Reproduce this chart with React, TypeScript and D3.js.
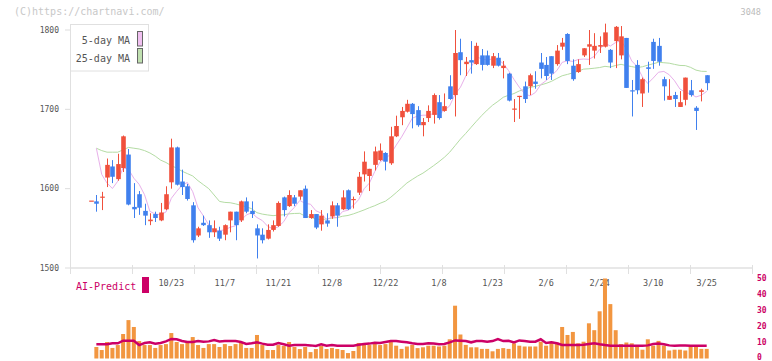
import React, { useEffect, useRef } from "react";
import * as d3 from "d3";

// daily candles, Oct 1 .. Mar 25 (116 sessions)
const opens = [
  1584, 1584, 1589, 1614, 1628, 1612, 1626, 1643, 1577, 1593,
  1572, 1559, 1568, 1560, 1574, 1608, 1652, 1609, 1603, 1579,
  1541, 1557, 1554, 1545, 1547, 1542, 1560, 1571, 1560, 1584,
  1572, 1550, 1542, 1537, 1548, 1553, 1589, 1578, 1589, 1590,
  1600, 1563, 1568, 1555, 1560, 1565, 1579, 1574, 1598, 1586,
  1595, 1618, 1616, 1630, 1636, 1645, 1632, 1666, 1690, 1697,
  1707, 1699, 1680, 1689, 1693, 1709, 1698, 1729, 1718, 1772,
  1757, 1762, 1757, 1768, 1768, 1755, 1765, 1752, 1745, 1700,
  1716, 1729, 1729, 1735, 1759, 1756, 1767, 1757, 1779, 1795,
  1755, 1747, 1768, 1779, 1774, 1779, 1779, 1775, 1786, 1768,
  1790, 1724, 1756, 1720, 1753, 1785, 1780, 1738, 1712, 1718,
  1703, 1712, 1724, 1702, 1722, 1743,
];
const highs = [
  1585, 1592, 1596, 1638, 1636, 1644, 1667, 1650, 1607, 1597,
  1581, 1569, 1571, 1582, 1603, 1663, 1653, 1624, 1606, 1583,
  1552, 1566, 1560, 1560, 1552, 1555, 1571, 1571, 1585, 1589,
  1584, 1555, 1550, 1555, 1560, 1584, 1590, 1598, 1592, 1598,
  1604, 1573, 1568, 1573, 1569, 1584, 1582, 1598, 1599, 1590,
  1621, 1647, 1625, 1653, 1657, 1646, 1678, 1692, 1703, 1712,
  1708, 1704, 1689, 1705, 1720, 1718, 1720, 1743, 1800, 1789,
  1766, 1786, 1784, 1776, 1774, 1771, 1771, 1761, 1746, 1713,
  1717, 1735, 1745, 1748, 1771, 1766, 1767, 1781, 1790, 1796,
  1763, 1763, 1777, 1800, 1796, 1792, 1808, 1776, 1805, 1805,
  1790, 1737, 1762, 1740, 1760, 1789, 1790, 1741, 1738, 1722,
  1723, 1740, 1737, 1704, 1726, 1743,
];
const lows = [
  1585, 1571, 1573, 1602, 1607, 1610, 1621, 1579, 1563, 1567,
  1554, 1554, 1558, 1559, 1573, 1600, 1604, 1592, 1585, 1532,
  1539, 1553, 1538, 1539, 1534, 1535, 1545, 1535, 1558, 1569,
  1563, 1512, 1531, 1536, 1546, 1552, 1565, 1577, 1578, 1586,
  1563, 1562, 1549, 1547, 1552, 1562, 1552, 1573, 1573, 1575,
  1592, 1609, 1597, 1623, 1635, 1623, 1630, 1665, 1680, 1696,
  1676, 1678, 1666, 1684, 1682, 1687, 1697, 1712, 1691, 1743,
  1742, 1745, 1756, 1749, 1755, 1752, 1754, 1739, 1710, 1684,
  1688, 1708, 1718, 1726, 1739, 1737, 1737, 1755, 1775, 1757,
  1736, 1746, 1766, 1756, 1764, 1771, 1778, 1752, 1752, 1763,
  1727, 1691, 1719, 1703, 1721, 1751, 1755, 1711, 1712, 1703,
  1703, 1705, 1716, 1674, 1710, 1724,
];
const closes = [
  1585, 1581, 1590, 1630, 1615, 1631, 1666, 1580, 1574, 1576,
  1566, 1561, 1563, 1570, 1593, 1652, 1605, 1602, 1587, 1535,
  1550, 1554, 1545, 1550, 1537, 1554, 1571, 1554, 1584, 1571,
  1568, 1541, 1535, 1548, 1554, 1582, 1573, 1592, 1581, 1598,
  1563, 1568, 1551, 1566, 1556, 1579, 1566, 1589, 1574, 1587,
  1615, 1634, 1625, 1647, 1648, 1634, 1666, 1679, 1698, 1707,
  1694, 1680, 1684, 1698, 1718, 1689, 1704, 1713, 1771, 1762,
  1760, 1759, 1780, 1756, 1756, 1767, 1755, 1755, 1711, 1701,
  1717, 1713, 1743, 1732, 1751, 1742, 1745, 1774, 1784, 1761,
  1738, 1757, 1777, 1782, 1780, 1781, 1797, 1759, 1804, 1792,
  1727, 1723, 1724, 1738, 1751, 1761, 1760, 1729, 1717, 1713,
  1709, 1740, 1718, 1698, 1724, 1733,
];

// moving averages before enough sessions are on screen
const ma5Head = [null, 1651, 1618, 1607];
const ma25Head = [
  null, 1651, 1648, 1646, 1646, 1646, 1649, 1652, 1651, 1650,
  1648, 1645, 1641, 1636, 1633, 1629, 1626, 1622, 1619, 1616,
  1610, 1605, 1600, 1592,
];

// AI-Predict panel, sessions 1..115
const aiBars = [
  7.2, 5.3, 10.3, 6.6, 8.4, 15.3, 24, 19.7, 10.9, 8.4,
  8.4, 6.6, 8.4, 9, 15.9, 10.3, 9, 10.3, 13.4, 8.4,
  6.6, 9, 9, 7.2, 9, 7.8, 9, 10.3, 6.6, 6.6,
  14.7, 8.4, 5.3, 5.3, 8.4, 7.8, 10.3, 7.2, 5.9, 7.2,
  4, 5.9, 7.8, 5.9, 6.6, 5.9, 5.3, 3.4, 4.7, 9.7,
  9.7, 8.4, 10.3, 8.4, 9, 10.3,
  8, 6, 7.5, 8.5, 6.5, 7, 8, 8, 7.5, 8, 12, 33, 15,
  8.5, 7, 7, 6, 6, 4.5, 6, 6.5, 6, 9.5, 8, 7.5, 7.5, 7.5, 10.5, 8, 10.5, 10,
  19.7, 14.7, 16.6, 9.5, 10.5, 22, 17.7, 29.5, 50, 34, 17.7,
  9, 10, 9.5, 8, 5.5, 12, 8, 11, 8, 5, 5.5, 5.5, 5, 8, 8, 6, 6,
];
const aiLine = [
  8.9, 8.9, 8.9, 9.5, 9.5, 11.1, 11.1, 11.1, 8.4, 9.7,
  10.1, 9.3, 9.7, 10.7, 12.2, 12, 10.9, 10.3, 10.3, 10.9,
  10.5, 10.7, 11.5, 10.7, 10.9, 10.9, 10.9, 10.3, 9.1, 9.5,
  10.1, 9.3, 8.6, 8.6, 9.7, 8.9, 8, 8.4, 8.4, 8.4,
  8.2, 7.8, 8.9, 8, 8.4, 8, 8, 8, 8, 8.6,
  9.1, 9.3, 9.9, 9.7, 10.3, 10.9, 10.9, 10.5, 10.1, 9.5,
  9.1, 9.1, 9.5, 9.3, 8.9, 9.1, 10.1, 11.3, 11.1, 10.9,
  10.1, 10.9, 10.9, 10.5, 10.9, 12.2, 10.9, 11.1, 10.1, 11.3,
  10.9, 10.5, 10.5, 12, 9.7, 10.1, 9.5, 8.4, 8.4, 8.4,
  8.4, 8.6, 9.1, 9.5, 8.9, 8.4, 8, 8, 8, 8,
  8, 8, 8, 8.2, 9.1, 9.3, 8.9, 8.2, 8, 8.2,
  8.2, 8, 8, 8, 8,
];
const aiStart = 1;

const xLabels = ["10/23", "11/7", "11/21", "12/8", "12/22", "1/8", "1/23", "2/6", "2/24", "3/10", "3/25"];
const xLabelIdx = [15, 25, 35, 45, 55, 65, 75, 85, 95, 105, 115];
const priceTicks = [1500, 1600, 1700, 1800];
const aiTicks = [0, 10, 20, 30, 40, 50];

const mono = "'DejaVu Sans Mono', monospace";
const UP = "#f0503c";
const DOWN = "#4080ee";
const MAGENTA = "#cc0066";

const movingAvg = (n: number, head: (number | null)[]) =>
  closes.map((_, i) => (i < n - 1 ? head[i] : d3.mean(closes.slice(i - n + 1, i + 1))));

const App = () => {
  const ref = useRef<SVGSVGElement>(null);

  useEffect(() => {
    const svg = d3.select(ref.current);
    svg.selectAll("*").remove();

    const x = d3.scaleLinear().domain([0, closes.length - 1]).range([91, 706.7]);
    const y = d3.scaleLinear().domain([1500, 1800]).range([268, 30]);
    const yv = d3.scaleLinear().domain([0, 50]).range([358.5, 278.5]);

    // header texts
    svg.append("text").attr("x", 14).attr("y", 15).text("(C)https://chartnavi.com/")
      .style("font-family", mono).style("font-size", "10px").attr("fill", "#c8c8c8");
    svg.append("text").attr("x", 761).attr("y", 15).attr("text-anchor", "end").text("3048")
      .style("font-family", mono).style("font-size", "8.5px").attr("fill", "#bbb");

    // axes frame
    svg.append("line").attr("x1", 70.5).attr("x2", 70.5).attr("y1", 24).attr("y2", 268)
      .attr("stroke", "#e0e0e0");
    svg.append("line").attr("x1", 70).attr("x2", 752).attr("y1", 268).attr("y2", 268)
      .attr("stroke", "#e0e0e0").attr("stroke-width", 1.5);
    d3.range(12).forEach((k) => {
      const tx = Math.round(70 + k * 62) + 0.5;
      svg.append("line").attr("x1", tx).attr("x2", tx).attr("y1", 265).attr("y2", 274)
        .attr("stroke", "#e0e0e0");
    });
    priceTicks.forEach((p) => {
      svg.append("line").attr("x1", 65).attr("x2", 70).attr("y1", y(p)).attr("y2", y(p))
        .attr("stroke", "#ddd");
      svg.append("text").attr("x", 59).attr("y", y(p)).attr("dy", "0.35em")
        .attr("text-anchor", "end").text(p)
        .style("font-family", mono).style("font-size", "8px").attr("fill", "#555");
    });
    xLabels.forEach((t, k) => {
      svg.append("text").attr("x", x(xLabelIdx[k])).attr("y", 285.5)
        .attr("text-anchor", "middle").text(t)
        .style("font-family", mono).style("font-size", "8.5px").attr("fill", "#555");
    });

    // moving averages
    const ma5 = movingAvg(5, ma5Head);
    const ma25 = movingAvg(25, ma25Head);
    const maLine = d3.line<number | null | undefined>()
      .defined((d) => d != null)
      .x((_, i) => x(i))
      .y((d) => y(d as number));
    svg.append("path").attr("d", maLine(ma25)).attr("fill", "none")
      .attr("stroke", "#b4dca4").attr("stroke-width", 1);
    svg.append("path").attr("d", maLine(ma5)).attr("fill", "none")
      .attr("stroke", "#e8b0ea").attr("stroke-width", 1);

    // candles
    const bw = 4.6;
    const candle = svg.append("g").selectAll("g").data(closes).enter().append("g");
    candle.append("line")
      .attr("x1", (_, i) => Math.round(x(i)) + 0.5)
      .attr("x2", (_, i) => Math.round(x(i)) + 0.5)
      .attr("y1", (_, i) => y(highs[i]))
      .attr("y2", (_, i) => y(lows[i]))
      .attr("stroke", (c, i) => (c >= opens[i] ? UP : DOWN));
    candle.append("rect")
      .attr("x", (_, i) => Math.round(x(i)) + 0.5 - bw / 2)
      .attr("width", bw)
      .attr("y", (c, i) => y(Math.max(c, opens[i])))
      .attr("height", (c, i) => Math.max(1.2, Math.abs(y(c) - y(opens[i]))))
      .attr("fill", (c, i) => (c >= opens[i] ? UP : DOWN));

    // legend
    svg.append("rect").attr("x", 70.5).attr("y", 24.5).attr("width", 78).attr("height", 46.5)
      .attr("fill", "#fff").attr("stroke", "#e0e0e0");
    [["5-day MA", "#f0c0f0", 31.5, 44], ["25-day MA", "#c0e0b0", 48.5, 61.5]].forEach(([t, c, ry, ty]) => {
      svg.append("text").attr("x", 130).attr("y", ty as number).attr("text-anchor", "end").text(t as string)
        .style("font-family", mono).style("font-size", "10px").attr("fill", "#555");
      svg.append("rect").attr("x", 137.5).attr("y", ry as number).attr("width", 5).attr("height", 14.5)
        .attr("fill", c as string).attr("stroke", "#666");
    });

    // AI-Predict panel
    svg.append("text").attr("x", 76).attr("y", 290).text("AI-Predict")
      .style("font-family", mono).style("font-size", "10px").attr("fill", MAGENTA);
    svg.append("rect").attr("x", 142).attr("y", 277).attr("width", 7).attr("height", 16)
      .attr("fill", MAGENTA);
    svg.append("g").selectAll("rect").data(aiBars).enter().append("rect")
      .attr("x", (_, k) => x(k + aiStart) - 2)
      .attr("width", 4)
      .attr("y", (d) => yv(d))
      .attr("height", (d) => yv(0) - yv(d))
      .attr("fill", "#f29640");
    const aiPath = d3.line<number>().x((_, k) => x(k + aiStart)).y((d) => yv(d));
    svg.append("path").attr("d", aiPath(aiLine)).attr("fill", "none")
      .attr("stroke", MAGENTA).attr("stroke-width", 2.5);
    aiTicks.forEach((v) => {
      svg.append("text").attr("x", 757).attr("y", Math.min(yv(v) + 2.5, 359.5)).text(v)
        .style("font-family", mono).style("font-size", "8px").style("font-weight", "bold")
        .attr("fill", MAGENTA);
    });
  }, []);

  return (
    <svg ref={ref} width={772} height={361}
      style={{ position: "absolute", left: 0, top: 0, background: "#fff" }} />
  );
};

export default App;
